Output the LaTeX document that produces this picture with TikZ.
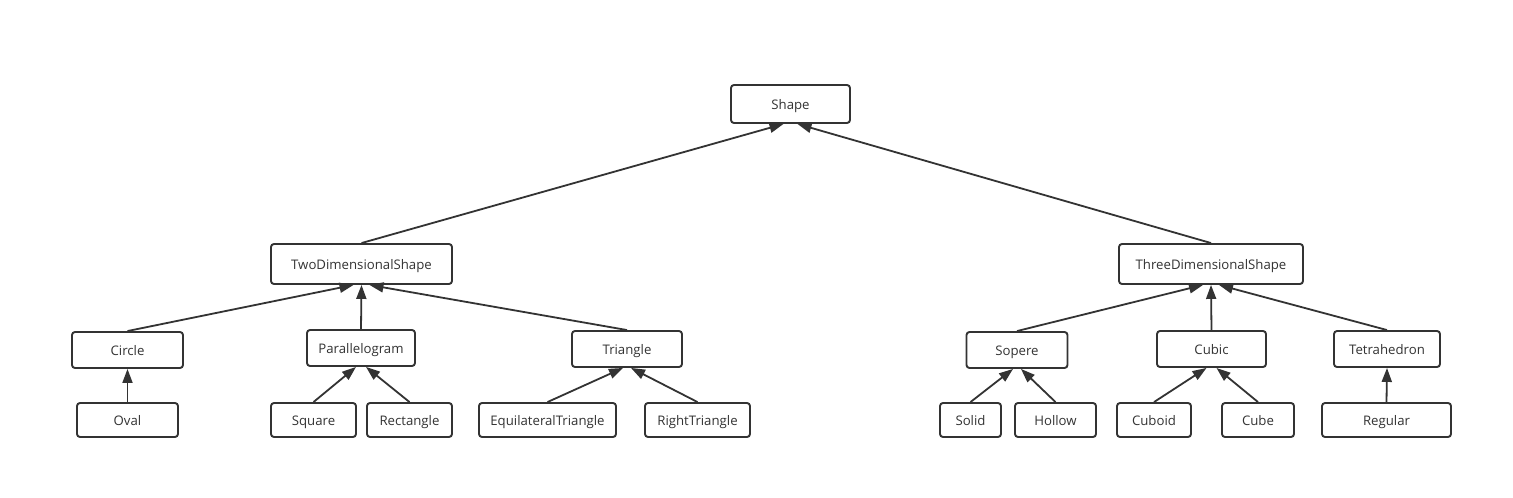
\documentclass[tikz,border=0pt]{standalone}
\usepackage{fontspec}
\setmainfont{Open Sans}
\usetikzlibrary{arrows.meta}
\definecolor{line}{HTML}{333333}
\definecolor{txt}{HTML}{333333}
\tikzset{
  box/.style={draw=line, line width=1.9pt, rounded corners=3pt, inner sep=0pt,
    font=\fontsize{13.2}{15}\selectfont, text=txt, fill=white,
    text height=11pt, text depth=1pt},
  arr/.style={draw=line, line width=1.8pt, -{Triangle[length=14pt,width=10pt]}}
}
\begin{document}
\begin{tikzpicture}[x=1pt,y=-1pt]
\useasboundingbox[fill=white] (0,0) rectangle (1513,498);
% level 0
\node[box, minimum width=119pt, minimum height=38pt] (shape) at (790.5,104) {Shape};
% level 1
\node[box, minimum width=181pt, minimum height=40pt] (two) at (361.5,264) {TwoDimensionalShape};
\node[box, minimum width=184pt, minimum height=40pt] (three) at (1211,264) {ThreeDimensionalShape};
% level 2 left
\node[box, minimum width=111pt, minimum height=36pt] (circle) at (127.5,350) {Circle};
\node[box, minimum width=108pt, minimum height=36pt] (para) at (361,348) {Parallelogram};
\node[box, minimum width=110pt, minimum height=36pt] (tri) at (627,349) {Triangle};
% level 2 right
\node[box, minimum width=101pt, minimum height=36pt] (sop) at (1017,350) {Sopere};
\node[box, minimum width=109pt, minimum height=36pt] (cubic) at (1211.5,349) {Cubic};
\node[box, minimum width=106pt, minimum height=36pt] (tet) at (1387,349) {Tetrahedron};
% level 3 left
\node[box, minimum width=101pt, minimum height=34pt] (oval) at (127.5,420) {Oval};
\node[box, minimum width=85pt, minimum height=34pt] (square) at (313.5,420) {Square};
\node[box, minimum width=85pt, minimum height=34pt] (rect) at (409.5,420) {Rectangle};
\node[box, minimum width=137pt, minimum height=34pt] (equi) at (547.5,420) {EquilateralTriangle};
\node[box, minimum width=105pt, minimum height=34pt] (right) at (697.5,420) {RightTriangle};
% level 3 right
\node[box, minimum width=61pt, minimum height=34pt] (solid) at (970.5,420) {Solid};
\node[box, minimum width=81pt, minimum height=34pt] (hollow) at (1055.5,420) {Hollow};
\node[box, minimum width=74pt, minimum height=34pt] (cuboid) at (1154,420) {Cuboid};
\node[box, minimum width=72pt, minimum height=34pt] (cube) at (1258,420) {Cube};
\node[box, minimum width=129pt, minimum height=34pt] (reg) at (1386.5,420) {Regular};
% connectors
\draw[arr] (two.north) -- ([xshift=-7pt]shape.south);
\draw[arr] (three.north) -- ([xshift=7pt]shape.south);
\draw[arr] (circle.north) -- ([xshift=-8pt]two.south);
\draw[arr] (para.north) -- (two.south);
\draw[arr] (tri.north) -- ([xshift=8pt]two.south);
\draw[arr] (sop.north) -- ([xshift=-8pt]three.south);
\draw[arr] (cubic.north) -- (three.south);
\draw[arr] (tet.north) -- ([xshift=8pt]three.south);
\draw[arr] (oval.north) -- (circle.south);
\draw[arr] (square.north) -- ([xshift=-5pt]para.south);
\draw[arr] (rect.north) -- ([xshift=5pt]para.south);
\draw[arr] (equi.north) -- ([xshift=-4pt]tri.south);
\draw[arr] (right.north) -- ([xshift=4pt]tri.south);
\draw[arr] (solid.north) -- ([xshift=-4pt]sop.south);
\draw[arr] (hollow.north) -- ([xshift=4pt]sop.south);
\draw[arr] (cuboid.north) -- ([xshift=-5pt]cubic.south);
\draw[arr] (cube.north) -- ([xshift=5pt]cubic.south);
\draw[arr] (reg.north) -- (tet.south);
\end{tikzpicture}
\end{document}
